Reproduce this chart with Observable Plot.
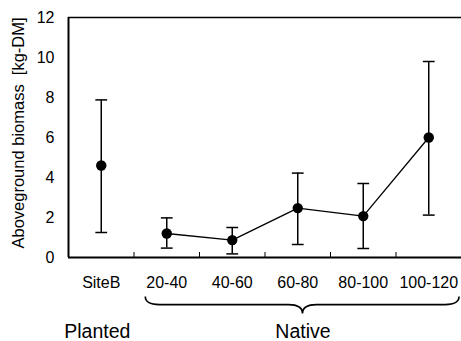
<!DOCTYPE html>
<html>
<head>
<meta charset="utf-8">
<script src="https://cdn.jsdelivr.net/npm/d3@7"></script>
<script src="https://cdn.jsdelivr.net/npm/@observablehq/plot@0.6"></script>
<style>
  html, body { margin: 0; padding: 0; background: #fff; }
  #chart { width: 461px; height: 341px; }
</style>
</head>
<body>
<div id="chart"></div>
<script>
const categories = ["SiteB", "20-40", "40-60", "60-80", "80-100", "100-120"];
const groupOf = ["Planted", "Native", "Native", "Native", "Native", "Native"];
const means = [4.6, 1.2, 0.87, 2.47, 2.07, 6.0];
const upper = [7.88, 1.98, 1.5, 4.22, 3.7, 9.8];
const lower = [1.25, 0.47, 0.18, 0.65, 0.45, 2.12];
const yTicks = [0, 2, 4, 6, 8, 10, 12];
const yLabel = "Aboveground biomass  [kg-DM]";
const groupLabels = ["Planted", "Native"];

const table = categories.map((c, i) => ({
  i, cat: c, group: groupOf[i], mean: means[i], hi: upper[i], lo: lower[i]
}));
const native = table.filter(d => d.group === "Native");
const bounds = categories.slice(1).map((_, i) => i + 0.5);

// brace spanning the Native categories (in category-index units)
const braceFrom = 0.68, braceTo = 5.47, braceTip = 3.08;
const braceTop = -1.98, braceMid = -2.38, braceBottom = -2.83;

function brace(index, scales) {
  const x = scales.x, y = scales.y;
  const xl = x(braceFrom), xr = x(braceTo), xm = x(braceTip);
  const yt = y(braceTop), yh = y(braceMid), yb = y(braceBottom);
  const q = 14;
  const p = d3.path();
  p.moveTo(xl, yt);
  p.quadraticCurveTo(xl, yh, xl + q, yh);
  p.lineTo(xm - q, yh);
  p.quadraticCurveTo(xm, yh, xm, yb);
  p.quadraticCurveTo(xm, yh, xm + q, yh);
  p.lineTo(xr - q, yh);
  p.quadraticCurveTo(xr, yh, xr, yt);
  const el = d3.create("svg:path")
    .attr("d", p.toString())
    .attr("fill", "none")
    .attr("stroke", "black")
    .attr("stroke-width", 1.6);
  return el.node();
}

const groupPos = [
  {label: groupLabels[0], x: -0.06},
  {label: groupLabels[1], x: braceTip}
];

const chart = Plot.plot({
  width: 461,
  height: 341,
  marginLeft: 68,
  marginRight: 0,
  marginTop: 17,
  marginBottom: 84,
  style: {fontFamily: "Arial, 'Liberation Sans', sans-serif", fontSize: "16px", color: "black", background: "white"},
  x: {domain: [-0.5, 5.5], axis: null},
  y: {domain: [0, 12], axis: null},
  marks: [
    Plot.axisX({ticks: bounds, tickSize: -5, tickFormat: () => "", label: null}),
    Plot.text(yTicks, {y: d => d, frameAnchor: "left", dx: -14, textAnchor: "end", text: d => String(d), fontSize: 16}),
    Plot.text(table, {x: "i", frameAnchor: "bottom", dy: 30, text: "cat", fontSize: 16}),
    Plot.ruleY([0], {strokeWidth: 2}),
    Plot.ruleY([12], {strokeWidth: 1.5}),
    Plot.ruleX([-0.5], {strokeWidth: 2}),
    Plot.ruleX(table, {x: "i", y1: "lo", y2: "hi", strokeWidth: 1.5}),
    Plot.link(table, {x1: d => d.i - 0.09, x2: d => d.i + 0.09, y1: "hi", y2: "hi", strokeWidth: 1.5}),
    Plot.link(table, {x1: d => d.i - 0.09, x2: d => d.i + 0.09, y1: "lo", y2: "lo", strokeWidth: 1.5}),
    Plot.line(native, {x: "i", y: "mean", stroke: "black", strokeWidth: 1.3}),
    Plot.dot(table, {x: "i", y: "mean", r: 5.2, fill: "black"}),
    Plot.text([yLabel], {frameAnchor: "left", rotate: -90, textAnchor: "middle", dx: -50, dy: -4.5, fontSize: 16.5, text: d => d}),
    brace,
    Plot.text(groupPos, {x: "x", y: () => -3.73, text: "label", fontSize: 19.5})
  ]
});
document.getElementById("chart").appendChild(chart);
</script>
</body>
</html>
